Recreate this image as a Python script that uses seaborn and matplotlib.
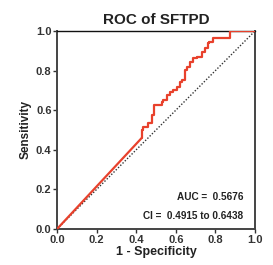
import numpy as np
import pandas as pd
import matplotlib
matplotlib.use('Agg')
import matplotlib.pyplot as plt
import seaborn as sns

# ROC curve points
fpr = [0.0, 0.428, 0.428, 0.436, 0.461, 0.478, 0.49, 0.503, 0.528, 0.537, 0.553,
       0.571, 0.587, 0.604, 0.621, 0.63, 0.646, 0.655, 0.672, 0.688, 0.705,
       0.731, 0.747, 0.764, 0.768, 0.79, 0.81, 0.874, 0.88, 1.0]
tpr = [0.0, 0.46, 0.483, 0.5, 0.517, 0.534, 0.576, 0.626, 0.626, 0.643, 0.652,
       0.677, 0.693, 0.702, 0.719, 0.744, 0.753, 0.803, 0.82, 0.845, 0.862,
       0.87, 0.895, 0.912, 0.938, 0.946, 0.963, 0.963, 1.0, 1.0]
ref_line = [0.0, 1.0]
ticks = [0.0, 0.2, 0.4, 0.6, 0.8, 1.0]
auc_text = "AUC =  0.5676"
ci_text = "CI =  0.4915 to 0.6438"

sns.set_style("white")
plt.rcParams['font.family'] = ['Liberation Sans', 'DejaVu Sans']

fig = plt.figure(figsize=(2.73, 2.65), dpi=100)
ax = fig.add_axes([0.209, 0.136, 0.725, 0.747])

roc_df = pd.DataFrame({"fpr": fpr, "tpr": tpr})
red = "#e8412c"
# straight first segment, then staircase
sns.lineplot(data=roc_df.iloc[:2], x="fpr", y="tpr", sort=False, estimator=None,
             color=red, linewidth=1.6, ax=ax, zorder=3)
sns.lineplot(data=roc_df.iloc[1:], x="fpr", y="tpr", sort=False, estimator=None,
             color=red, linewidth=1.6, ax=ax, zorder=3, drawstyle="steps-pre")
sns.lineplot(x=ref_line, y=ref_line, color="#333333", linewidth=1.0,
             linestyle=(0, (1, 1.3)), ax=ax, zorder=2)

ax.set_xlim(0, 1)
ax.set_ylim(0, 1)
ax.set_xticks(ticks)
ax.set_yticks(ticks)
ax.set_xticklabels([f"{t:.1f}" for t in ticks], fontsize=8, fontweight="bold", color="#333333")
ax.set_yticklabels([f"{t:.1f}" for t in ticks], fontsize=8, fontweight="bold", color="#333333")
ax.tick_params(axis="both", direction="out", length=3, width=1, colors="#333333", pad=1,
               bottom=True, left=True)

for side in ["left", "bottom", "right"]:
    ax.spines[side].set_color("#444444")
    ax.spines[side].set_linewidth(1.4)
ax.spines["top"].set_color("#111111")
ax.spines["top"].set_linewidth(1.0)

ax.set_title("ROC of SFTPD", fontsize=11, fontweight="bold", color="#222222", pad=5)
ax.set_xlabel("1 - Specificity", fontsize=9, fontweight="bold", color="#222222", labelpad=1)
ax.set_ylabel("Sensitivity", fontsize=8.5, fontweight="bold", color="#222222", labelpad=3)

ax.text(0.94, 0.163, auc_text, fontsize=7.2, fontweight="bold", color="#222222",
        ha="right", va="center", transform=ax.transAxes)
ax.text(0.94, 0.067, ci_text, fontsize=7.2, fontweight="bold", color="#222222",
        ha="right", va="center", transform=ax.transAxes)

fig.savefig("out.png", dpi=100)
